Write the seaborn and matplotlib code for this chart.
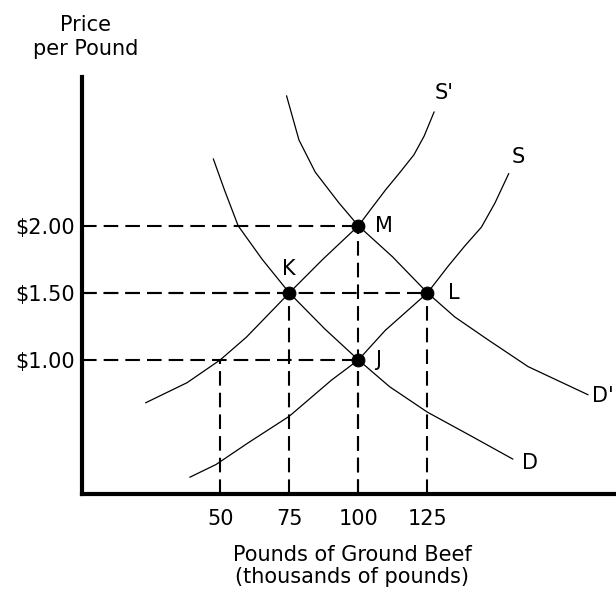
import matplotlib

matplotlib.use("Agg")
import matplotlib.pyplot as plt
import pandas as pd
import seaborn as sns

# ---------------------------------------------------------------------------
# Data
# ---------------------------------------------------------------------------
d_x = [47.5, 51.5, 56.5, 65.2, 75, 87.9, 100, 111.3, 125, 141, 155.9]
d_y = [2.50, 2.27, 2.00, 1.75, 1.5, 1.23, 1.0, 0.80, 0.61, 0.43, 0.26]

d2_x = [74, 78.5, 84.4, 93, 100, 112.3, 125, 134.9, 146.9, 161.4, 183.1]
d2_y = [2.97, 2.64, 2.40, 2.17, 2.0, 1.77, 1.5, 1.32, 1.15, 0.95, 0.74]

s_x = [39, 48.5, 60, 75, 90.3, 100, 109.7, 125, 132.5, 138.5, 144.5, 149.4, 154.4]
s_y = [0.125, 0.22, 0.38, 0.58, 0.85, 1.0, 1.22, 1.5, 1.70, 1.85, 1.99, 2.17, 2.39]

s2_x = [23, 38, 50, 59.5, 75, 87.1, 100, 105.1, 109.9, 114.7, 120.1, 123.8, 127.4]
s2_y = [0.68, 0.83, 1.0, 1.17, 1.5, 1.75, 2.0, 2.14, 2.27, 2.39, 2.53, 2.67, 2.85]

point_names = ["K", "M", "L", "J"]
point_x = [75, 100, 125, 100]
point_y = [1.5, 2.0, 1.5, 1.0]

x_ticks = [50, 75, 100, 125]
x_tick_labels = ["50", "75", "100", "125"]
y_ticks = [1.0, 1.5, 2.0]
y_tick_labels = [r"\$1.00", r"\$1.50", r"\$2.00"]

# ---------------------------------------------------------------------------
sns.set_theme(style="white")
plt.rcParams["font.family"] = ["DejaVu Sans"]
plt.rcParams["text.color"] = "black"
plt.rcParams["xtick.color"] = "black"
plt.rcParams["ytick.color"] = "black"

FS = 15

curves = pd.concat(
    [
        pd.DataFrame({"q": d_x, "p": d_y, "curve": "D"}),
        pd.DataFrame({"q": d2_x, "p": d2_y, "curve": "D'"}),
        pd.DataFrame({"q": s_x, "p": s_y, "curve": "S"}),
        pd.DataFrame({"q": s2_x, "p": s2_y, "curve": "S'"}),
    ],
    ignore_index=True,
)
points = pd.DataFrame({"q": point_x, "p": point_y, "name": point_names})

fig = plt.figure(figsize=(6.16, 5.94), dpi=100)
ax = fig.add_axes([82 / 616, 100 / 594, 534 / 616, 417 / 594])

dash = (0, (7, 3.4))
# guide lines from the axes to each equilibrium
for px, py in zip(point_x, point_y):
    ax.plot([0, px], [py, py], color="black", lw=1.5, linestyle=dash, zorder=1)
    ax.plot([px, px], [0, py], color="black", lw=1.5, linestyle=dash, zorder=1)
# 50 on the S' curve at $1.00
ax.plot([50, 50], [0, 1.0], color="black", lw=1.5, linestyle=dash, zorder=1)

sns.lineplot(
    data=curves, x="q", y="p", units="curve", estimator=None, sort=False,
    color="black", linewidth=0.9, ax=ax, legend=False, zorder=2,
)
sns.scatterplot(
    data=points, x="q", y="p", color="black", s=85, edgecolor="black",
    ax=ax, legend=False, zorder=3,
)

# curve labels
ax.text(155.6, 2.51, "S", fontsize=FS, va="center", ha="left")
ax.text(127.7, 2.99, "S'", fontsize=FS, va="center", ha="left")
ax.text(159.2, 0.23, "D", fontsize=FS, va="center", ha="left")
ax.text(184.5, 0.73, "D'", fontsize=FS, va="center", ha="left")
# point labels
ax.text(75, 1.68, "K", fontsize=FS, va="center", ha="center")
ax.text(106, 2.0, "M", fontsize=FS, va="center", ha="left")
ax.text(132.5, 1.5, "L", fontsize=FS, va="center", ha="left")
ax.text(106, 1.0, "J", fontsize=FS, va="center", ha="left")

ax.set_xlim(0, 193.2)
ax.set_ylim(0, 3.11)
ax.set_xticks(x_ticks)
ax.set_xticklabels(x_tick_labels, fontsize=FS)
ax.set_yticks(y_ticks)
ax.set_yticklabels(y_tick_labels, fontsize=FS)
ax.tick_params(axis="both", length=0)
ax.tick_params(axis="x", pad=11)
ax.tick_params(axis="y", pad=5)
ax.set_xlabel("")
ax.set_ylabel("")

for side in ["top", "right"]:
    ax.spines[side].set_visible(False)
for side in ["left", "bottom"]:
    ax.spines[side].set_linewidth(3)
    ax.spines[side].set_color("black")
    ax.spines[side].set_capstyle("projecting")

fig.text(86 / 616, 1 - 37 / 594, "Price\nper Pound", ha="center", va="center",
         fontsize=FS, linespacing=1.25)
fig.text(352 / 616, 1 - 566 / 594, "Pounds of Ground Beef\n(thousands of pounds)",
         ha="center", va="center", fontsize=FS, linespacing=1.15)

fig.savefig("out.png", dpi=100)
